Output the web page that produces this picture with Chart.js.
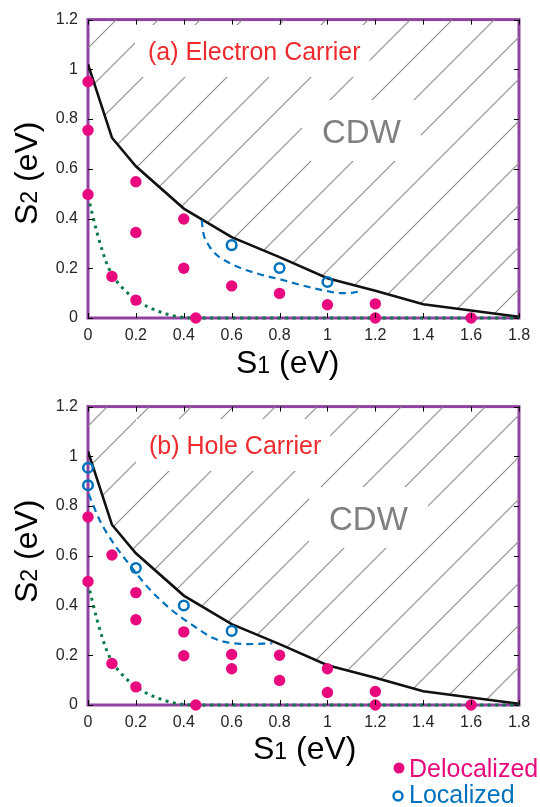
<!DOCTYPE html>
<html lang="en">
<head>
<meta charset="UTF-8">
<title>S1-S2 phase diagram</title>
<script src="https://cdn.jsdelivr.net/npm/chart.js@4.4.1/dist/chart.umd.min.js"></script>
<style>
  body { margin:0; background:#fff; }
  #wrap { position:relative; width:540px; height:807px; }
  .panel { position:absolute; left:0; }
  #panelA { top:0; }
  #panelB { top:387px; }
  canvas { display:block; }
</style>
</head>
<body>
<div id="wrap">
  <div class="panel" id="panelA"><canvas id="chartA" width="540" height="387"></canvas></div>
  <div class="panel" id="panelB"><canvas id="chartB" width="540" height="420"></canvas></div>
</div>
<script>
const xTicks = [0, 0.2, 0.4, 0.6, 0.8, 1, 1.2, 1.4, 1.6, 1.8];
const yTicks = [0, 0.2, 0.4, 0.6, 0.8, 1, 1.2];

// CDW boundary, same in both panels
const cdwS1 = [0, 0.1, 0.2, 0.4, 0.6, 0.8, 1, 1.2, 1.4, 1.8];
const cdwS2 = [1.02, 0.725, 0.61, 0.44, 0.325, 0.245, 0.16, 0.11, 0.055, 0.005];

// green dotted curve, same in both panels
const dotS1 = [0, 0.02, 0.04, 0.06, 0.08, 0.1, 0.15, 0.2, 0.25, 0.3, 0.35, 0.4, 0.45, 1.8];
const dotS2 = [0.49, 0.41, 0.335, 0.27, 0.215, 0.175, 0.115, 0.075, 0.045, 0.025, 0.01, 0.002, 0, 0];

// (a) electron carrier
const elecDashS1 = [0.475, 0.48, 0.5, 0.53, 0.57, 0.64, 0.72, 0.8, 0.9, 1.0, 1.06, 1.1, 1.13];
const elecDashS2 = [0.394, 0.35, 0.3, 0.26, 0.232, 0.2, 0.175, 0.156, 0.13, 0.108, 0.1, 0.101, 0.107];
const elecDelocS1 = [0, 0, 0, 0.1, 0.2, 0.2, 0.2, 0.4, 0.4, 0.45, 0.6, 0.8, 1, 1.2, 1.2, 1.6];
const elecDelocS2 = [0.95, 0.755, 0.497, 0.167, 0.548, 0.344, 0.072, 0.398, 0.2, 0, 0.129, 0.099, 0.053, 0.057, 0, 0];
const elecLocS1 = [0.6, 0.8, 1];
const elecLocS2 = [0.293, 0.201, 0.145];

// (b) hole carrier
const holeDashS1 = [0.003, 0.049, 0.107, 0.179, 0.251, 0.352, 0.438, 0.525, 0.582, 0.669, 0.77];
const holeDashS2 = [0.848, 0.743, 0.65, 0.558, 0.472, 0.38, 0.32, 0.268, 0.252, 0.245, 0.248];
const holeDelocS1 = [0, 0, 0.1, 0.1, 0.2, 0.2, 0.2, 0.4, 0.4, 0.45, 0.6, 0.6, 0.8, 0.8, 1, 1, 1.2, 1.2, 1.6];
const holeDelocS2 = [0.756, 0.497, 0.603, 0.167, 0.452, 0.343, 0.073, 0.294, 0.198, 0, 0.203, 0.146, 0.2, 0.099, 0.146, 0.05, 0.054, 0, 0];
const holeLocS1 = [0, 0, 0.2, 0.4, 0.6];
const holeLocS2 = [0.954, 0.884, 0.551, 0.4, 0.298];

const FONT = '"Liberation Sans", Arial, Helvetica, sans-serif';
const MAG = '#E8097F';
const BLUE = '#0072BD';
const GREEN = '#0B7A4B';
const PURPLE = '#8F429F';

const pts = (xs, ys) => xs.map((x, i) => ({ x: x, y: ys[i] }));

function hatch(shift) {
  const c = document.createElement('canvas');
  c.width = 42; c.height = 42;
  const g = c.getContext('2d');
  g.strokeStyle = '#8a8a8a';
  g.lineWidth = 1.1;
  for (const o of [-42, 0, 42]) {
    g.beginPath(); g.moveTo(o - 1, 43); g.lineTo(o + 43, -1); g.stroke();
  }
  const p = g.createPattern(c, 'repeat');
  p.setTransform(new DOMMatrix().translate(shift, 0));
  return p;
}

function boxedText(ctx, text, x, base, size, color, pad) {
  ctx.font = size + 'px ' + FONT;
  const w = ctx.measureText(text).width;
  ctx.fillStyle = '#fff';
  ctx.fillRect(x - pad[0], base - pad[1], w + pad[0] + pad[2], pad[1] + pad[3]);
  ctx.fillStyle = color;
  ctx.textAlign = 'left';
  ctx.textBaseline = 'alphabetic';
  ctx.fillText(text, x, base);
}

// "S" + smaller digit + " (eV)"
function axisTitle(ctx, digit, x, y, angle) {
  ctx.save();
  ctx.translate(x, y);
  ctx.rotate(angle);
  ctx.fillStyle = '#000';
  ctx.textAlign = 'left';
  ctx.textBaseline = 'alphabetic';
  ctx.font = '32px ' + FONT;
  ctx.fillText('S', 0, 0);
  let w = ctx.measureText('S').width;
  ctx.font = '23px ' + FONT;
  ctx.fillText(digit, w, 0);
  w += ctx.measureText(digit).width;
  ctx.font = '32px ' + FONT;
  ctx.fillText(' (eV)', w, 0);
  ctx.restore();
}

const framePlugin = {
  id: 'frame',
  beforeDatasetsDraw(chart) {
    const { ctx, chartArea: a } = chart;
    ctx.save();
    ctx.strokeStyle = PURPLE;
    ctx.lineWidth = 3;
    ctx.strokeRect(a.left, a.top, a.right - a.left, a.bottom - a.top);
    ctx.restore();
  }
};

function decorPlugin(cfg) {
  return {
    id: 'decor',
    afterDatasetsDraw(chart) {
      const { ctx, chartArea: a, scales } = chart;
      ctx.save();
      boxedText(ctx, cfg.title, cfg.titleX, cfg.titleY, 25, '#EE2A2E', [13, 35, 9, 17]);
      boxedText(ctx, 'CDW', cfg.cdwX, cfg.cdwY, 33, '#808080', [20, 43, 20, 18]);

      // inward tick marks on all four sides
      ctx.strokeStyle = '#000';
      ctx.lineWidth = 1;
      ctx.beginPath();
      xTicks.forEach(v => {
        const px = Math.round(scales.x.getPixelForValue(v)) + 0.5;
        ctx.moveTo(px, a.bottom); ctx.lineTo(px, a.bottom - 5);
        ctx.moveTo(px, a.top); ctx.lineTo(px, a.top + 5);
      });
      yTicks.forEach(v => {
        const py = Math.round(scales.y.getPixelForValue(v)) + 0.5;
        ctx.moveTo(a.left, py); ctx.lineTo(a.left + 5, py);
        ctx.moveTo(a.right, py); ctx.lineTo(a.right - 5, py);
      });
      ctx.stroke();

      axisTitle(ctx, '1', cfg.xTitleX, cfg.xTitleY, 0);
      axisTitle(ctx, '2', 37, cfg.yTitleY, -Math.PI / 2);

      if (cfg.legend) {
        ctx.fillStyle = MAG;
        ctx.beginPath(); ctx.arc(399, 381, 5.5, 0, Math.PI * 2); ctx.fill();
        ctx.strokeStyle = BLUE; ctx.lineWidth = 2.4;
        ctx.beginPath(); ctx.arc(398, 409, 4.5, 0, Math.PI * 2); ctx.stroke();
        ctx.font = '25px ' + FONT;
        ctx.textAlign = 'left';
        ctx.textBaseline = 'alphabetic';
        ctx.fillStyle = MAG;
        ctx.fillText(chart.data.datasets[0].label, 409, 390);
        ctx.fillStyle = BLUE;
        ctx.fillText(chart.data.datasets[1].label, 409, 416);
      }
      ctx.restore();
    }
  };
}

function makeChart(id, h, d, cfg) {
  const tickFont = { family: FONT, size: 16 };
  return new Chart(document.getElementById(id), {
    type: 'line',
    data: {
      datasets: [
        { label: 'Delocalized', data: pts(d.delocX, d.delocY), showLine: false,
          pointRadius: 5.7, pointBackgroundColor: MAG, pointBorderWidth: 0, clip: false },
        { label: 'Localized', data: pts(d.locX, d.locY), showLine: false,
          pointRadius: 4.8, pointBackgroundColor: 'rgba(0,0,0,0)', pointBorderColor: BLUE,
          pointBorderWidth: 2.5, clip: false },
        { label: 'dash', data: pts(d.dashX, d.dashY), borderColor: BLUE, borderWidth: 2.2,
          borderDash: [7, 5], pointRadius: 0, cubicInterpolationMode: 'monotone', clip: false },
        { label: 'dotted', data: pts(dotS1, dotS2), borderColor: GREEN, borderWidth: 3,
          borderDash: [3, 4.5], pointRadius: 0, cubicInterpolationMode: 'monotone', clip: false },
        { label: 'CDW', data: pts(cdwS1, cdwS2), borderColor: '#111', borderWidth: 2.6,
          pointRadius: 0, tension: 0, fill: 'end', backgroundColor: hatch(cfg.shift) }
      ]
    },
    options: {
      responsive: false,
      animation: false,
      events: [],
      layout: { padding: { top: 14, right: 21, left: 0, bottom: 0 } },
      plugins: { legend: { display: false }, tooltip: { enabled: false } },
      scales: {
        x: {
          type: 'linear', min: 0, max: 1.8,
          grid: { display: false, drawTicks: false }, border: { display: false },
          ticks: { color: '#262626', font: tickFont, padding: 8, autoSkip: false, maxRotation: 0,
                   callback: v => String(v) },
          afterBuildTicks: ax => { ax.ticks = xTicks.map(v => ({ value: v })); },
          afterFit: ax => { ax.height = h - 318; }
        },
        y: {
          type: 'linear', min: 0, max: 1.2,
          grid: { display: false, drawTicks: false }, border: { display: false },
          ticks: { color: '#262626', font: tickFont, padding: 10, autoSkip: false,
                   callback: v => String(v) },
          afterBuildTicks: ax => { ax.ticks = yTicks.map(v => ({ value: v })); },
          afterFit: ax => { ax.width = 88; }
        }
      }
    },
    plugins: [framePlugin, decorPlugin(cfg)]
  });
}

makeChart('chartA', 387, {
  delocX: elecDelocS1, delocY: elecDelocS2, locX: elecLocS1, locY: elecLocS2,
  dashX: elecDashS1, dashY: elecDashS2
}, { title: '(a) Electron Carrier', titleX: 148, titleY: 60, cdwX: 322, cdwY: 143,
     xTitleX: 236, xTitleY: 373, yTitleY: 225, shift: 10, legend: false });

makeChart('chartB', 420, {
  delocX: holeDelocS1, delocY: holeDelocS2, locX: holeLocS1, locY: holeLocS2,
  dashX: holeDashS1, dashY: holeDashS2
}, { title: '(b) Hole Carrier', titleX: 149, titleY: 67, cdwX: 329, cdwY: 143,
     xTitleX: 253, xTitleY: 372, yTitleY: 216, shift: 1, legend: true });
</script>
</body>
</html>
